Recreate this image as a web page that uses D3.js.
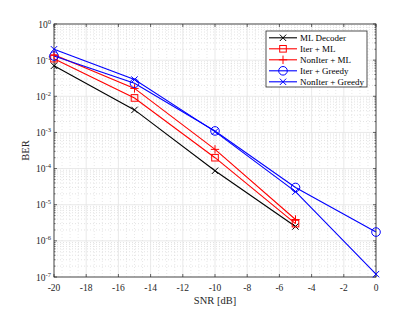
<!DOCTYPE html>
<html><head><meta charset="utf-8">
<script src="https://cdn.jsdelivr.net/npm/d3@7"></script>
<style>body{margin:0;background:#fff}svg{display:block;font-family:"Liberation Serif","Times New Roman",serif}</style>
</head><body><svg id="c" width="415" height="312"></svg>
<script>
const snr = [-20, -15, -10, -5, 0];
const mlDecoder = [0.07, 0.0042, 8.7e-5, 2.5e-6];
const iterML = [0.11, 0.009, 2.0e-4, 3.0e-6];
const nonIterML = [0.14, 0.0165, 3.4e-4, 3.9e-6];
const iterGreedy = [0.13, 0.023, 1.1e-3, 3.0e-5, 1.75e-6];
const nonIterGreedy = [0.2, 0.029, 1.05e-3, 2.3e-5, 1.2e-7];
const seriesNames = ["ML Decoder", "Iter + ML", "NonIter + ML", "Iter + Greedy", "NonIter + Greedy"];
const xTicks = [-20, -18, -16, -14, -12, -10, -8, -6, -4, -2, 0];
const yExps = [0, -1, -2, -3, -4, -5, -6, -7];

const series = [
  {name: seriesNames[0], v: mlDecoder, color: "#000", marker: "x"},
  {name: seriesNames[1], v: iterML, color: "#ff0000", marker: "square"},
  {name: seriesNames[2], v: nonIterML, color: "#ff0000", marker: "plus"},
  {name: seriesNames[3], v: iterGreedy, color: "#0000ff", marker: "circle"},
  {name: seriesNames[4], v: nonIterGreedy, color: "#0000ff", marker: "x"}
];

const svg = d3.select("#c");
const L = 54, R = 376, T = 24, B = 277;
const x = d3.scaleLinear().domain([-20, 0]).range([L, R]);
const y = d3.scaleLog().domain([1e-7, 1]).range([B, T]);

const g = svg.append("g");
const xMinor = d3.range(-20, 0.001, 0.5).filter(v => Math.abs(v % 2) > 1e-9);
g.selectAll(".vxm").data(xMinor).enter().append("line")
  .attr("x1", d => x(d)).attr("x2", d => x(d)).attr("y1", T).attr("y2", B)
  .attr("stroke", "#d8d8d8").attr("stroke-width", 0.6).attr("stroke-dasharray", "1,2");
const yMinor = [];
for (let e = -7; e < 0; e++) for (let k = 2; k <= 9; k++) yMinor.push(k * Math.pow(10, e));
g.selectAll(".hym").data(yMinor).enter().append("line")
  .attr("x1", L).attr("x2", R).attr("y1", d => y(d)).attr("y2", d => y(d))
  .attr("stroke", "#d0d0d0").attr("stroke-width", 0.6).attr("stroke-dasharray", "1,2");
g.selectAll(".vx").data(xTicks).enter().append("line")
  .attr("x1", d => x(d)).attr("x2", d => x(d)).attr("y1", T).attr("y2", B)
  .attr("stroke", "#e3e3e3").attr("stroke-width", 0.8);
g.selectAll(".hy").data(yExps).enter().append("line")
  .attr("x1", L).attr("x2", R).attr("y1", d => y(Math.pow(10, d))).attr("y2", d => y(Math.pow(10, d)))
  .attr("stroke", "#e3e3e3").attr("stroke-width", 0.8);

const ax = svg.append("g");
const tickCol = "#262626";
xTicks.forEach(t => {
  ax.append("line").attr("x1", x(t)).attr("x2", x(t)).attr("y1", B).attr("y2", B - 3).attr("stroke", tickCol).attr("stroke-width", 0.7);
  ax.append("line").attr("x1", x(t)).attr("x2", x(t)).attr("y1", T).attr("y2", T + 3).attr("stroke", tickCol).attr("stroke-width", 0.7);
  ax.append("text").attr("x", x(t)).attr("y", B + 13.5).attr("text-anchor", "middle")
    .attr("font-size", 9.5).attr("fill", tickCol).text(t);
});
yExps.forEach(e => {
  const yy = y(Math.pow(10, e));
  ax.append("line").attr("x1", L).attr("x2", L + 3).attr("y1", yy).attr("y2", yy).attr("stroke", tickCol).attr("stroke-width", 0.7);
  ax.append("line").attr("x1", R).attr("x2", R - 3).attr("y1", yy).attr("y2", yy).attr("stroke", tickCol).attr("stroke-width", 0.7);
  const t = ax.append("text").attr("x", L - 3).attr("y", yy + 3.5).attr("text-anchor", "end")
    .attr("font-size", 9.5).attr("fill", tickCol);
  t.append("tspan").text("10");
  t.append("tspan").attr("dy", -4).attr("font-size", 6.5).text(e);
});
yMinor.forEach(v => {
  const yy = y(v);
  ax.append("line").attr("x1", L).attr("x2", L + 1.6).attr("y1", yy).attr("y2", yy).attr("stroke", tickCol).attr("stroke-width", 0.6);
  ax.append("line").attr("x1", R).attr("x2", R - 1.6).attr("y1", yy).attr("y2", yy).attr("stroke", tickCol).attr("stroke-width", 0.6);
});
ax.append("rect").attr("x", L).attr("y", T).attr("width", R - L).attr("height", B - T)
  .attr("fill", "none").attr("stroke", tickCol).attr("stroke-width", 0.8);

svg.append("text").attr("x", x(-10)).attr("y", 304).attr("text-anchor", "middle")
  .attr("font-size", 10.5).attr("fill", tickCol).text("SNR [dB]");
svg.append("text").attr("transform", `translate(29,${(T + B) / 2}) rotate(-90)`).attr("text-anchor", "middle")
  .attr("font-size", 10.5).attr("fill", tickCol).text("BER");

function drawMarker(sel, type, cx, cy, color) {
  if (type === "x") {
    const s = 3.2;
    sel.append("path").attr("d", `M${cx - s},${cy - s}L${cx + s},${cy + s}M${cx - s},${cy + s}L${cx + s},${cy - s}`)
      .attr("stroke", color).attr("stroke-width", 1).attr("fill", "none");
  } else if (type === "plus") {
    const s = 4.2;
    sel.append("path").attr("d", `M${cx - s},${cy}L${cx + s},${cy}M${cx},${cy - s}L${cx},${cy + s}`)
      .attr("stroke", color).attr("stroke-width", 1).attr("fill", "none");
  } else if (type === "square") {
    const s = 3.3;
    sel.append("rect").attr("x", cx - s).attr("y", cy - s).attr("width", 2 * s).attr("height", 2 * s)
      .attr("stroke", color).attr("stroke-width", 1).attr("fill", "none");
  } else if (type === "circle") {
    sel.append("circle").attr("cx", cx).attr("cy", cy).attr("r", 4.3)
      .attr("stroke", color).attr("stroke-width", 1).attr("fill", "none");
  }
}

const plot = svg.append("g");
const line = d3.line().x((d, i) => x(snr[i])).y(d => y(d));
series.forEach(s => {
  plot.append("path").attr("d", line(s.v)).attr("fill", "none").attr("stroke", s.color).attr("stroke-width", 1.1);
  s.v.forEach((d, i) => drawMarker(plot, s.marker, x(snr[i]), y(d), s.color));
});

const lg = svg.append("g");
const lx = 266, ly = 31, lw = 101, lh = 56;
lg.append("rect").attr("x", lx).attr("y", ly).attr("width", lw).attr("height", lh)
  .attr("fill", "#fff").attr("stroke", tickCol).attr("stroke-width", 0.8);
series.forEach((s, i) => {
  const yy = ly + 6.8 + i * 11;
  lg.append("line").attr("x1", lx + 3).attr("x2", lx + 31).attr("y1", yy).attr("y2", yy)
    .attr("stroke", s.color).attr("stroke-width", 1.1);
  drawMarker(lg, s.marker, lx + 17, yy, s.color);
  lg.append("text").attr("x", lx + 34).attr("y", yy + 3).attr("font-size", 9).attr("fill", "#000").text(s.name);
});
</script></body></html>
